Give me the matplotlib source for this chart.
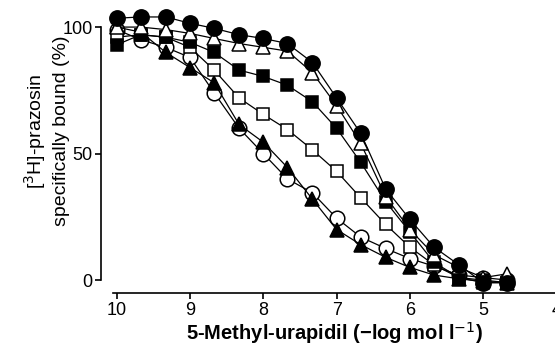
import matplotlib
matplotlib.use("Agg")
import matplotlib.pyplot as plt

plt.rcParams['font.family'] = ['Liberation Sans', 'DejaVu Sans']

# -log [5-methyl-urapidil] (1/3 log unit steps)
log_conc = [10, 9.67, 9.33, 9, 8.67, 8.33, 8, 7.67, 7.33, 7, 6.67, 6.33, 6, 5.67, 5.33, 5, 4.67]

# % specific [3H]-prazosin binding
filled_circle = [103.5, 104, 104, 101.5, 99.5, 97, 95.5, 93.5, 86, 72, 58, 36, 24, 13, 6, -1, -1]
open_triangle = [100, 100, 99, 97.5, 95.5, 93.5, 92, 90.5, 82, 69, 54, 33, 20, 10, 5, 1, 2.5]
filled_square = [93, 97, 96, 94, 90, 83, 80.5, 77, 70.5, 60, 46.5, 31, 19, 7, 1, 0, -1]
open_square = [96, 97, 96, 92, 83, 72, 65.5, 59.5, 51.5, 43, 32.5, 22, 13, 6, 1, -1, -1]
filled_triangle = [100, 98, 90, 84, 78, 61.5, 54.5, 44.5, 32, 20, 14, 9, 5, 2, 0.5, -0.5, -1]
open_circle = [99, 95, 92, 88, 74, 60, 50, 40, 34.5, 24.5, 17, 12.5, 8.5, 5.5, 2, 1, 0]

x_ticks = [10, 9, 8, 7, 6, 5, 4]
y_ticks = [0, 50, 100]

fig = plt.figure(figsize=(5.55, 3.5), dpi=100)
ax = fig.add_axes([113 / 555, 0.178, 443.5 / 555, 0.788])

lw = 0.9
series = [
    (open_circle, 'o', 'white', 10.5),
    (filled_triangle, '^', 'black', 10),
    (open_square, 's', 'white', 8.5),
    (filled_square, 's', 'black', 8.5),
    (open_triangle, '^', 'white', 10),
    (filled_circle, 'o', 'black', 11),
]
for vals, mk, fc, ms in series:
    ax.plot(log_conc, vals, color='black', lw=lw, marker=mk, markersize=ms,
            markerfacecolor=fc, markeredgecolor='black', markeredgewidth=1.1,
            clip_on=False)

ax.set_xlim(10.05, 4)
ax.set_ylim(-3, 106)
ax.set_xticks(x_ticks)
ax.set_yticks(y_ticks)

for s in ['top', 'right']:
    ax.spines[s].set_visible(False)
ax.spines['left'].set_position(('outward', 8.6))
ax.spines['left'].set_bounds(0, 100)
ax.spines['bottom'].set_position(('outward', 4))
for s in ['left', 'bottom']:
    ax.spines[s].set_linewidth(1.2)

ax.tick_params(axis='both', direction='out', length=4, width=1.2,
               labelsize=13, pad=2)

ax.set_xlabel('5-Methyl-urapidil (\u2212log mol l$^{-1}$)', fontsize=14.5,
              fontweight='bold', labelpad=1)
# y label as figure text, centred near x = 46 px, y = 131 px
fig.text(46 / 555, 1 - 131 / 350, '[$^{3}$H]-prazosin\nspecifically bound (%)',
         fontsize=14, rotation=90, ha='center', va='center',
         linespacing=1.4, multialignment='center')

fig.savefig('out.png', dpi=100)
